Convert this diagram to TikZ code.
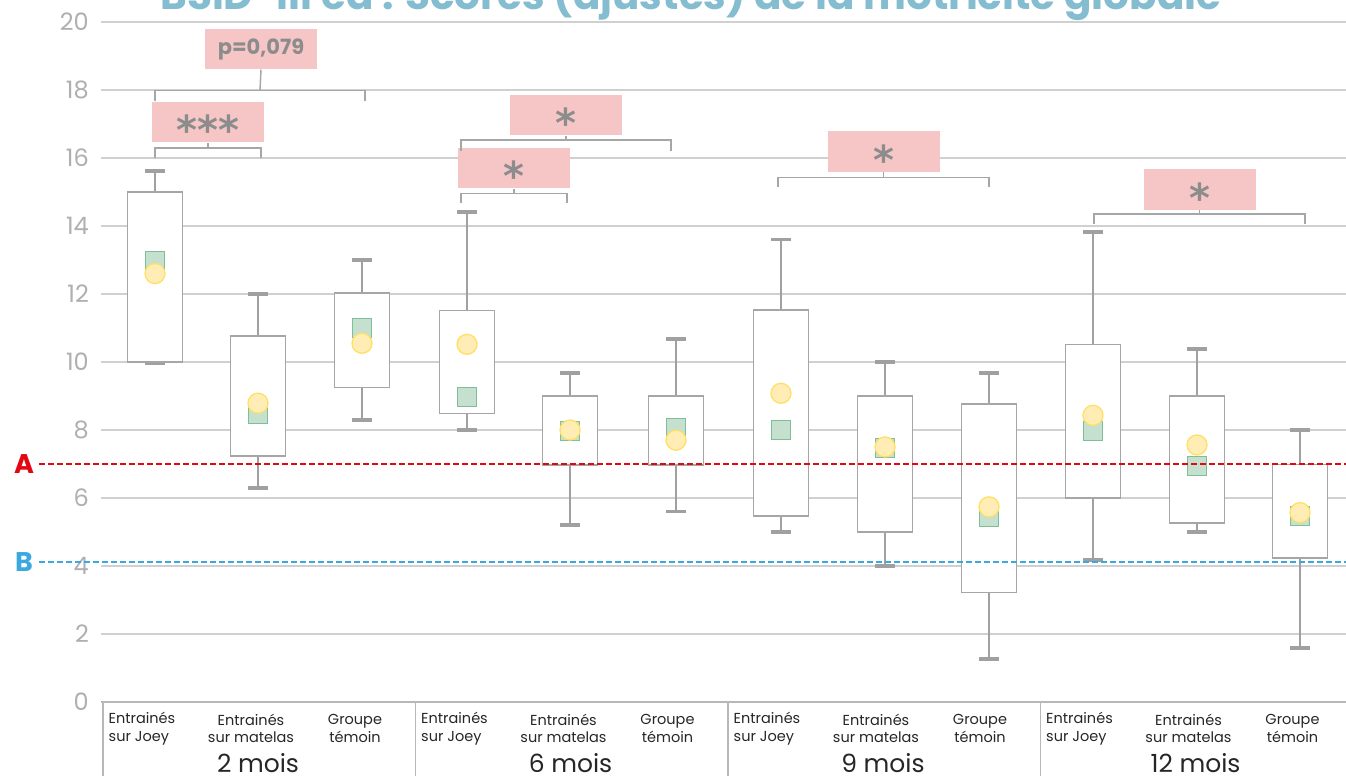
\documentclass[tikz,border=0pt]{standalone}
\usepackage{fontspec}
\setmainfont{Poppins}
\newfontfamily\etoilefont{DejaVu Sans}
\usetikzlibrary{calc}

\definecolor{grisgrille}{HTML}{D0D0D0}
\definecolor{grisaxe}{HTML}{A6A6A6}
\definecolor{grismoust}{HTML}{A0A0A0}
\definecolor{roseSig}{HTML}{F6C6C7}
\definecolor{grisSig}{HTML}{8C8C8C}
\definecolor{vertMed}{HTML}{C6E0D0}
\definecolor{vertBord}{HTML}{7FBF98}
\definecolor{jauneMoy}{HTML}{FFEDB5}
\definecolor{jauneBord}{HTML}{FFE066}
\definecolor{rougeA}{HTML}{E30613}
\definecolor{bleuB}{HTML}{3BA9DF}
\definecolor{bleuTitre}{HTML}{84BCD0}

\newcommand{\taille}[1]{\fontsize{#1}{1.2\dimexpr #1pt\relax}\selectfont}
% astérisques recentrés verticalement dans le cartouche
\newcommand{\etoiles}[1]{\raisebox{-0.57em}[0pt][0pt]{#1}}

\tikzset{
  grille/.style={grisgrille, line width=1.2pt},
  axe/.style={grisaxe!80, line width=2pt},
  separation/.style={grisaxe!80, line width=1.5pt},
  graduation/.style={anchor=east, text=grisaxe!90, font=\taille{24}, inner sep=0pt},
  boite/.style={draw=grisaxe, fill=white, line width=1.5pt},
  moustache/.style={grismoust, line width=2.2pt},
  capuchon/.style={grismoust, line width=3.6pt},
  mediane/.style={draw=vertBord, fill=vertMed, line width=1.3pt},
  moyenne/.style={draw=jauneBord, fill=jauneMoy, line width=1.3pt},
  seuil/.style={line width=2pt, dash pattern=on 6pt off 3pt},
  crochet/.style={grisaxe, line width=1.5pt},
  signif/.style={fill=roseSig, minimum width=112pt, minimum height=40.7pt,
    inner sep=0pt, anchor=south, text=grisSig},
  etoile/.style={signif, font=\taille{40}\etoilefont\bfseries},
  categorie/.style={font=\taille{14.5}, inner sep=0pt, text=black!85},
  periode/.style={font=\taille{25}, inner sep=0pt, anchor=base, text=black!85},
}

\begin{document}
\begin{tikzpicture}[x=1pt, y=34pt, line cap=butt]
	% Cadre de l'image
	\useasboundingbox (0,-2.176) rectangle (1346,20.647);
	\clip (0,-2.176) rectangle (1346,20.647);
	
	% Titre (coupé en haut)
	\node[anchor=base, text=bleuTitre, font=\taille{40.5}\bfseries, inner sep=0pt] (titre)
		at (691,20.37) {BSID-III ed : Scores (ajustés) de la motricité globale};
	
	% Grille et graduations
	\foreach \v in {2,4,...,20}
		\draw[grille] (101,\v) -- (1346,\v);
	\foreach \v in {0,2,...,20}
		\node[graduation] (grad\v) at (89,\v) {\v};
	
	% Axe horizontal et séparations des périodes
	\draw[axe] (101,0) -- (1346,0);
	\foreach \xs in {103,415.5,728,1040.5}
		\draw[separation] (\xs,0) -- (\xs,-2.3);
	
	% Boîtes : centre / min / Q1 / Q3 / max / médiane / moyenne
	\foreach \x/\wb/\qa/\qb/\wh/\md/\mn in {
		155/9.95/10.0/15.0/15.62/12.97/12.6,
		258/6.3/7.24/10.77/12.0/8.47/8.79,
		362/8.3/9.25/12.03/13.0/11.0/10.55,
		467/8.0/8.48/11.52/14.42/8.98/10.52,
		570/5.2/6.97/9.0/9.68/7.98/8.0,
		676/5.6/6.97/9.0/10.68/8.05/7.7,
		781/5.0/5.47/11.53/13.6/8.0/9.08,
		885/4.0/5.0/9.0/10.0/7.48/7.5,
		989/1.26/3.22/8.76/9.68/5.45/5.74,
		1093/4.17/6.0/10.52/13.82/7.97/8.43,
		1197/5.0/5.26/9.0/10.38/6.95/7.56,
		1300/1.58/4.23/6.98/8.0/5.47/5.57}{
		\draw[moustache] (\x,\wb) -- (\x,\qa);
		\draw[moustache] (\x,\qb) -- (\x,\wh);
		\draw[capuchon] (\x-10,\wb) -- (\x+10,\wb);
		\draw[capuchon] (\x-10,\wh) -- (\x+10,\wh);
		\draw[boite] (\x-27.5,\qa) rectangle (\x+27.5,\qb);
		\draw[mediane] (\x-9.5,\md) ++(0pt,-9.5pt) rectangle ++(19pt,19pt);
		\draw[moyenne] (\x,\mn) circle[radius=10pt];
	}
	
	% Seuils A et B
	\node[text=rougeA, font=\taille{27}\bfseries, inner sep=0pt] (A) at (24,7) {A};
	\node[text=bleuB, font=\taille{27}\bfseries, inner sep=0pt] (B) at (24,4.12) {B};
	\coordinate (finA) at (1346,7);
	\coordinate (finB) at (1346,4.12);
	\draw[seuil, rougeA] (39,7) -- (finA);
	\draw[seuil, bleuB] (39,4.12) -- (finB);
	
	% Significativités : gauche / droite / hauteur / bas des traits / bas du cartouche / texte
	\foreach \i/\xa/\xb/\yc/\yt/\yb/\lab in {
		1/155/261/16.30/16.01/16.45/***,
		3/461/567/14.96/14.67/15.10/*,
		4/461/671/16.53/16.22/16.66/*,
		5/778/989/15.43/15.14/15.59/*,
		6/1094/1305/14.35/14.06/14.47/*}{
		\node[etoile] (sig\i) at ({(\xa+\xb)/2},\yb) {\etoiles{\lab}};
		\draw[crochet] (\xa,\yt) -- (\xa,\yc) -- (\xb,\yc) -- (\xb,\yt);
		\draw[crochet] ({(\xa+\xb)/2},\yc) -- (sig\i.south);
	}
	\node[signif, font=\taille{21}\bfseries] (sig2) at (261,18.6) {p=0,079};
	\draw[crochet] (155,17.68) -- (155,17.98) -- (365,17.98) -- (365,17.68);
	\draw[crochet] (260,17.98) -- (sig2.south);
	
	% Libellés des groupes et des périodes
	\foreach \g/\mois in {0/2,1/6,2/9,3/12}{
		\node[categorie, align=left] (joey\g) at ({142+312.5*\g},-0.78) {Entrainés\\sur Joey};
		\node[categorie, align=center] (matelas\g) at ({251+312.5*\g},-0.78) {Entrainés\\sur matelas};
		\node[categorie, align=center] (temoin\g) at ({355+312.5*\g},-0.78) {Groupe\\témoin};
		\node[periode] (periode\g) at ({258+312.5*\g},-2.07) {\mois{} mois};
	}
\end{tikzpicture}
\end{document}
